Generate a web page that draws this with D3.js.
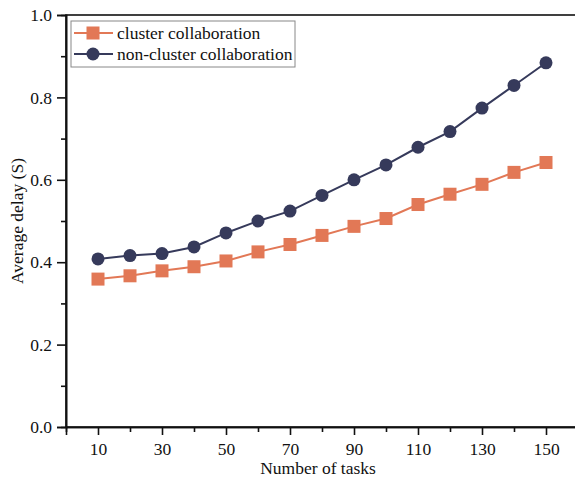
<!DOCTYPE html>
<html>
<head>
<meta charset="utf-8">
<script src="https://cdn.jsdelivr.net/npm/d3@7"></script>
<style>
  body { margin: 0; background: #fff; }
  text { font-family: "Liberation Serif", "Times New Roman", serif; fill: #111; }
</style>
</head>
<body>
<svg id="chart"></svg>
<script>
// data
var tasks = [10, 20, 30, 40, 50, 60, 70, 80, 90, 100, 110, 120, 130, 140, 150];
var clusterDelay = [0.359, 0.367, 0.379, 0.389, 0.403, 0.425, 0.443, 0.465, 0.487, 0.506, 0.540, 0.565, 0.589, 0.618, 0.642];
var nonClusterDelay = [0.408, 0.416, 0.421, 0.437, 0.471, 0.500, 0.524, 0.562, 0.600, 0.636, 0.679, 0.717, 0.774, 0.829, 0.884];
var xTickLabels = [10, 30, 50, 70, 90, 110, 130, 150];
var yTickLabels = [0.0, 0.2, 0.4, 0.6, 0.8, 1.0];
var seriesNames = ["cluster collaboration", "non-cluster collaboration"];

var width = 575, height = 482,
    margin = { top: 15, right: -3, bottom: 55, left: 66 };
var orange = '#e27856', navy = '#363a5b';

var svg = d3.select('#chart').attr('width', width).attr('height', height);

var x = d3.scaleLinear().domain([0, 160]).range([margin.left, width - margin.right]);
var y = d3.scaleLinear().domain([0, 1]).range([height - margin.bottom, margin.top]);

//frame
svg.append('rect')
    .attr('x', x(0)).attr('y', y(1))
    .attr('width', x(160) - x(0)).attr('height', y(0) - y(1))
    .attr('fill', 'none').attr('stroke', '#111').attr('stroke-width', 1.6);

//minor ticks
var xAxisMinor = d3.axisBottom(x).tickValues(d3.range(20, 160, 20)).tickSize(5).tickFormat('');
var yAxisMinor = d3.axisLeft(y).tickValues(d3.range(0.1, 1, 0.2)).tickSize(5).tickFormat('');
svg.append('g').attr('transform', 'translate(0,' + y(0) + ')').call(xAxisMinor);
svg.append('g').attr('transform', 'translate(' + x(0) + ',0)').call(yAxisMinor);

//major axes
var xAxis = d3.axisBottom(x).tickValues(xTickLabels).tickSize(8).tickPadding(8);
var yAxis = d3.axisLeft(y).tickValues(yTickLabels).tickSize(9).tickPadding(5).tickFormat(d3.format('.1f'));
svg.append('g').attr('class', 'x axis').attr('transform', 'translate(0,' + y(0) + ')').call(xAxis);
svg.append('g').attr('class', 'y axis').attr('transform', 'translate(' + x(0) + ',0)').call(yAxis);

svg.selectAll('.tick line').attr('stroke', '#111').attr('stroke-width', 1.6);
svg.selectAll('.domain').attr('stroke', '#111').attr('stroke-width', 1.6);
svg.selectAll('.tick text')
    .attr('font-family', '"Liberation Serif", serif')
    .attr('font-size', 17.5)
    .attr('fill', '#111');

//axis titles
svg.append('text')
    .attr('x', 318).attr('y', 474)
    .attr('text-anchor', 'middle')
    .attr('font-size', 17.5)
    .text('Number of tasks');
svg.append('text')
    .attr('transform', 'translate(23,' + ((y(0) + y(1)) / 2) + ') rotate(-90)')
    .attr('text-anchor', 'middle')
    .attr('font-size', 17.5)
    .text('Average delay (S)');

var line = d3.line()
    .x(function (d) { return x(d[0]); })
    .y(function (d) { return y(d[1]); });

var clusterData = tasks.map(function (t, i) { return [t, clusterDelay[i]]; });
var nonClusterData = tasks.map(function (t, i) { return [t, nonClusterDelay[i]]; });

svg.append('path').datum(clusterData)
    .attr('d', line).attr('fill', 'none').attr('stroke', orange).attr('stroke-width', 2);
svg.append('path').datum(nonClusterData)
    .attr('d', line).attr('fill', 'none').attr('stroke', navy).attr('stroke-width', 2);

var sq = 13;
svg.selectAll('rect.sq').data(clusterData).enter().append('rect')
    .attr('class', 'sq')
    .attr('x', function (d) { return x(d[0]) - sq / 2; })
    .attr('y', function (d) { return y(d[1]) - sq / 2; })
    .attr('width', sq).attr('height', sq)
    .attr('fill', orange);
svg.selectAll('circle.dot').data(nonClusterData).enter().append('circle')
    .attr('class', 'dot')
    .attr('cx', function (d) { return x(d[0]); })
    .attr('cy', function (d) { return y(d[1]); })
    .attr('r', 6.5)
    .attr('fill', navy);

//legend
var legend = svg.append('g').attr('transform', 'translate(71,21)');
legend.append('rect')
    .attr('width', 224).attr('height', 46)
    .attr('fill', '#fff').attr('stroke', '#888').attr('stroke-width', 1);
seriesNames.forEach(function (name, i) {
    var ly = 12 + i * 21;
    var color = i === 0 ? orange : navy;
    legend.append('line')
        .attr('x1', 3).attr('x2', 42).attr('y1', ly).attr('y2', ly)
        .attr('stroke', color).attr('stroke-width', 2);
    if (i === 0) {
        legend.append('rect')
            .attr('x', 22 - sq / 2).attr('y', ly - sq / 2)
            .attr('width', sq).attr('height', sq).attr('fill', color);
    } else {
        legend.append('circle')
            .attr('cx', 22).attr('cy', ly).attr('r', 6.5).attr('fill', color);
    }
    legend.append('text')
        .attr('x', 46).attr('y', ly + 6)
        .attr('font-size', 17.5)
        .text(name);
});
</script>
</body>
</html>
